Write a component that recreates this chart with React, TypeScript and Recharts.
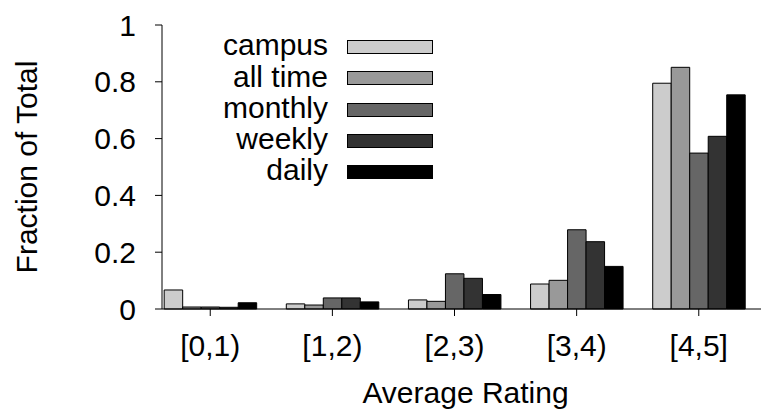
import React from "react";
import { Bar, BarChart, Legend, XAxis, YAxis } from "recharts";

const CATEGORIES = ["[0,1)", "[1,2)", "[2,3)", "[3,4)", "[4,5]"];
const CAMPUS = [0.067, 0.018, 0.032, 0.088, 0.795];
const ALL_TIME = [0.007, 0.014, 0.027, 0.101, 0.851];
const MONTHLY = [0.007, 0.039, 0.124, 0.279, 0.549];
const WEEKLY = [0.006, 0.039, 0.108, 0.237, 0.608];
const DAILY = [0.022, 0.025, 0.051, 0.15, 0.754];
const Y_TICKS = [0, 0.2, 0.4, 0.6, 0.8, 1];
const X_TICKS = CATEGORIES.map((_, i) => i);

const SERIES = [
  { key: "campus", name: "campus", values: CAMPUS },
  { key: "allTime", name: "all time", values: ALL_TIME },
  { key: "monthly", name: "monthly", values: MONTHLY },
  { key: "weekly", name: "weekly", values: WEEKLY },
  { key: "daily", name: "daily", values: DAILY },
];

const FILLS: Record<string, string> = {
  campus: "#cccccc",
  allTime: "#999999",
  monthly: "#666666",
  weekly: "#333333",
  daily: "#000000",
};

const FONT = "'Liberation Sans', Arial, sans-serif";

const data = CATEGORIES.map((c, i) => {
  const row: Record<string, number | string> = { x: i, cat: c };
  SERIES.forEach((s) => {
    row[s.key] = s.values[i];
  });
  return row;
});

// legend drawn inside the plot, text right-aligned, swatch after it
function renderLegend() {
  return (
    <div style={{ position: "relative", fontSize: 30, fontFamily: FONT }}>
      {SERIES.map((s) => (
        <div
          key={s.key}
          style={{ display: "flex", alignItems: "center", height: 31.25 }}
        >
          <div
            style={{
              width: 320,
              textAlign: "right",
              position: "relative",
              top: -2,
              lineHeight: "31.25px",
              color: "#000",
            }}
          >
            {s.name}
          </div>
          <div
            style={{
              marginLeft: 19,
              width: 84,
              height: 12,
              background: FILLS[s.key],
              border: "1px solid #000",
            }}
          />
        </div>
      ))}
    </div>
  );
}

function YLabel(props: any) {
  const vb = props.viewBox || { x: 0, y: 0, width: 0, height: 0 };
  const x = vb.x + 29;
  const y = vb.y + vb.height / 2;
  return (
    <text
      x={x}
      y={y}
      textAnchor="middle"
      transform={`rotate(-90, ${x}, ${y})`}
      fontSize={30}
      fill="#000"
    >
      Fraction of Total
    </text>
  );
}

export default function App() {
  return (
    <div style={{ fontFamily: FONT }}>
      <BarChart
        width={761}
        height={401}
        data={data}
        margin={{ top: 17, right: 0, bottom: 0, left: 0 }}
        barGap={0}
        barSize={18.5}
      >
        <XAxis
          xAxisId="bottom"
          type="number"
          dataKey="x"
          domain={[-0.395, 4.575]}
          allowDataOverflow
          ticks={X_TICKS}
          tickFormatter={(v) => CATEGORIES[v]}
          height={100}
          tickSize={7}
          tickMargin={19}
          stroke="#000"
          tick={{ fill: "#000", fontSize: 30 }}
          label={{
            value: "Average Rating",
            position: "insideBottom",
            offset: 6,
            fontSize: 30,
            fill: "#000",
          }}
        />
        <XAxis
          xAxisId="top"
          orientation="top"
          type="number"
          dataKey="x"
          domain={[-0.395, 4.575]}
          allowDataOverflow
          ticks={X_TICKS}
          tick={false}
          height={0}
          tickSize={7}
          stroke="#000"
        />
        <YAxis
          domain={[0, 1]}
          ticks={Y_TICKS}
          width={154}
          tickSize={7}
          tickMargin={19}
          stroke="#000"
          tick={{ fill: "#000", fontSize: 30 }}
          label={<YLabel />}
        />
        <Legend
          content={renderLegend}
          layout="vertical"
          align="center"
          verticalAlign="middle"
          wrapperStyle={{ left: 0, top: 23.4, width: 761 }}
        />
        {SERIES.map((s) => (
          <Bar
            key={s.key}
            xAxisId="bottom"
            dataKey={s.key}
            name={s.name}
            fill={FILLS[s.key]}
            stroke="#000"
            strokeWidth={1}
            isAnimationActive={false}
          />
        ))}
      </BarChart>
    </div>
  );
}
